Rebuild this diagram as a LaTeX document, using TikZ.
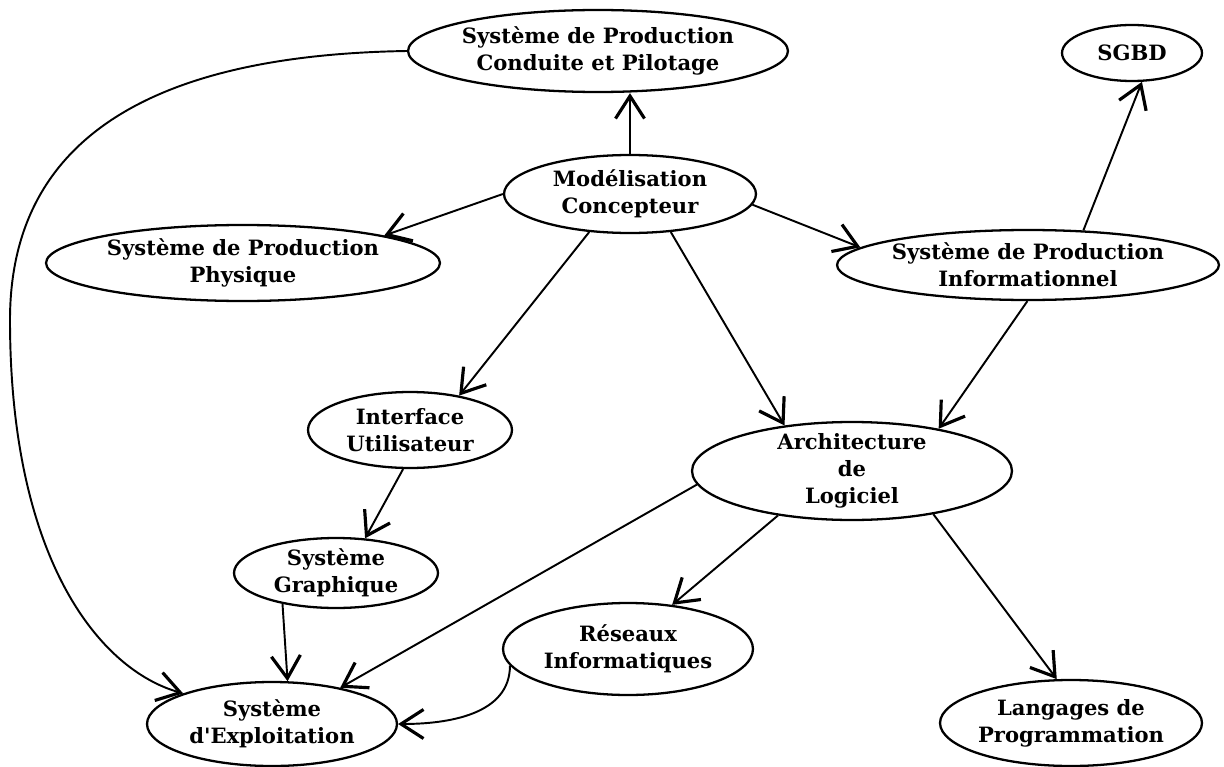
\documentclass[tikz,border=0pt]{standalone}
\usepackage{fontspec}
\setmainfont{DejaVu Serif}
\usetikzlibrary{shapes.geometric, arrows.meta}
\begin{document}
\begin{tikzpicture}[x=0.02cm, y=-0.02cm,
    bulle/.style={ellipse, draw, line width=1.3pt, inner sep=-1cm, align=center,
      font=\fontsize{12}{15.5}\selectfont\bfseries},
    fleche/.style={-{Straight Barb[length=4.5mm,width=5.8mm,line width=1.8pt]}, line width=1.1pt}]
  \useasboundingbox (0,0) rectangle (1224,767);

  % Les noeuds (positions en pixels de la figure)
  \node[bulle, minimum width=7.6cm, minimum height=1.64cm] (conduite) at (598,51) {Système de Production\\Conduite et Pilotage};
  \node[bulle, minimum width=2.8cm, minimum height=1.12cm] (sgbd) at (1132,53) {SGBD};
  \node[bulle, minimum width=5.04cm, minimum height=1.56cm] (model) at (630,194) {Modélisation\\Concepteur};
  \node[bulle, minimum width=7.88cm, minimum height=1.52cm] (physique) at (243,263) {Système de Production\\Physique};
  \node[bulle, minimum width=7.64cm, minimum height=1.4cm] (info) at (1028,265) {Système de Production\\Informationnel};
  \node[bulle, minimum width=4.08cm, minimum height=1.52cm] (interface) at (410,430) {Interface\\Utilisateur};
  \node[bulle, minimum width=6.4cm, minimum height=1.96cm] (archi) at (852,471) {Architecture\\de\\Logiciel};
  \node[bulle, minimum width=4.08cm, minimum height=1.4cm] (graphique) at (336,573) {Système\\Graphique};
  \node[bulle, minimum width=5cm, minimum height=1.84cm] (reseaux) at (628,649) {Réseaux\\Informatiques};
  \node[bulle, minimum width=5cm, minimum height=1.68cm] (exploit) at (272,724) {Système\\d\textquotesingle Exploitation};
  \node[bulle, minimum width=5.24cm, minimum height=1.72cm] (langages) at (1071,723) {Langages de\\Programmation};

  % Les fleches
  \draw[fleche] (model.north) -- (model.north |- conduite.south);
  \draw[fleche] (model.180) -- (physique.11);
  \draw[fleche] (model.-5) -- (info.174);
  \draw[fleche] (info.32) -- (sgbd.-71);
  \draw[fleche] (model.-137) -- (interface.35);
  \draw[fleche] (model.-43) -- (archi.146);
  \draw[fleche] (info.-91) -- (archi.26);
  \draw[fleche] (interface.-100) -- (graphique.50);
  \draw[fleche] (graphique.-150) -- (exploit.70);
  \draw[fleche] (archi.185) -- (exploit.28);
  \draw[fleche] (archi.-149) -- (reseaux.45);
  \draw[fleche] (archi.-28) -- (langages.108);
  \draw[fleche] (reseaux.188) to[out=-90, in=0] (exploit.east);
  % grande courbe a gauche
  \draw[fleche] (conduite.west) .. controls (150,55) and (10,140) .. (10,320)
    .. controls (10,560) and (100,670) .. (exploit.161);
\end{tikzpicture}
\end{document}
